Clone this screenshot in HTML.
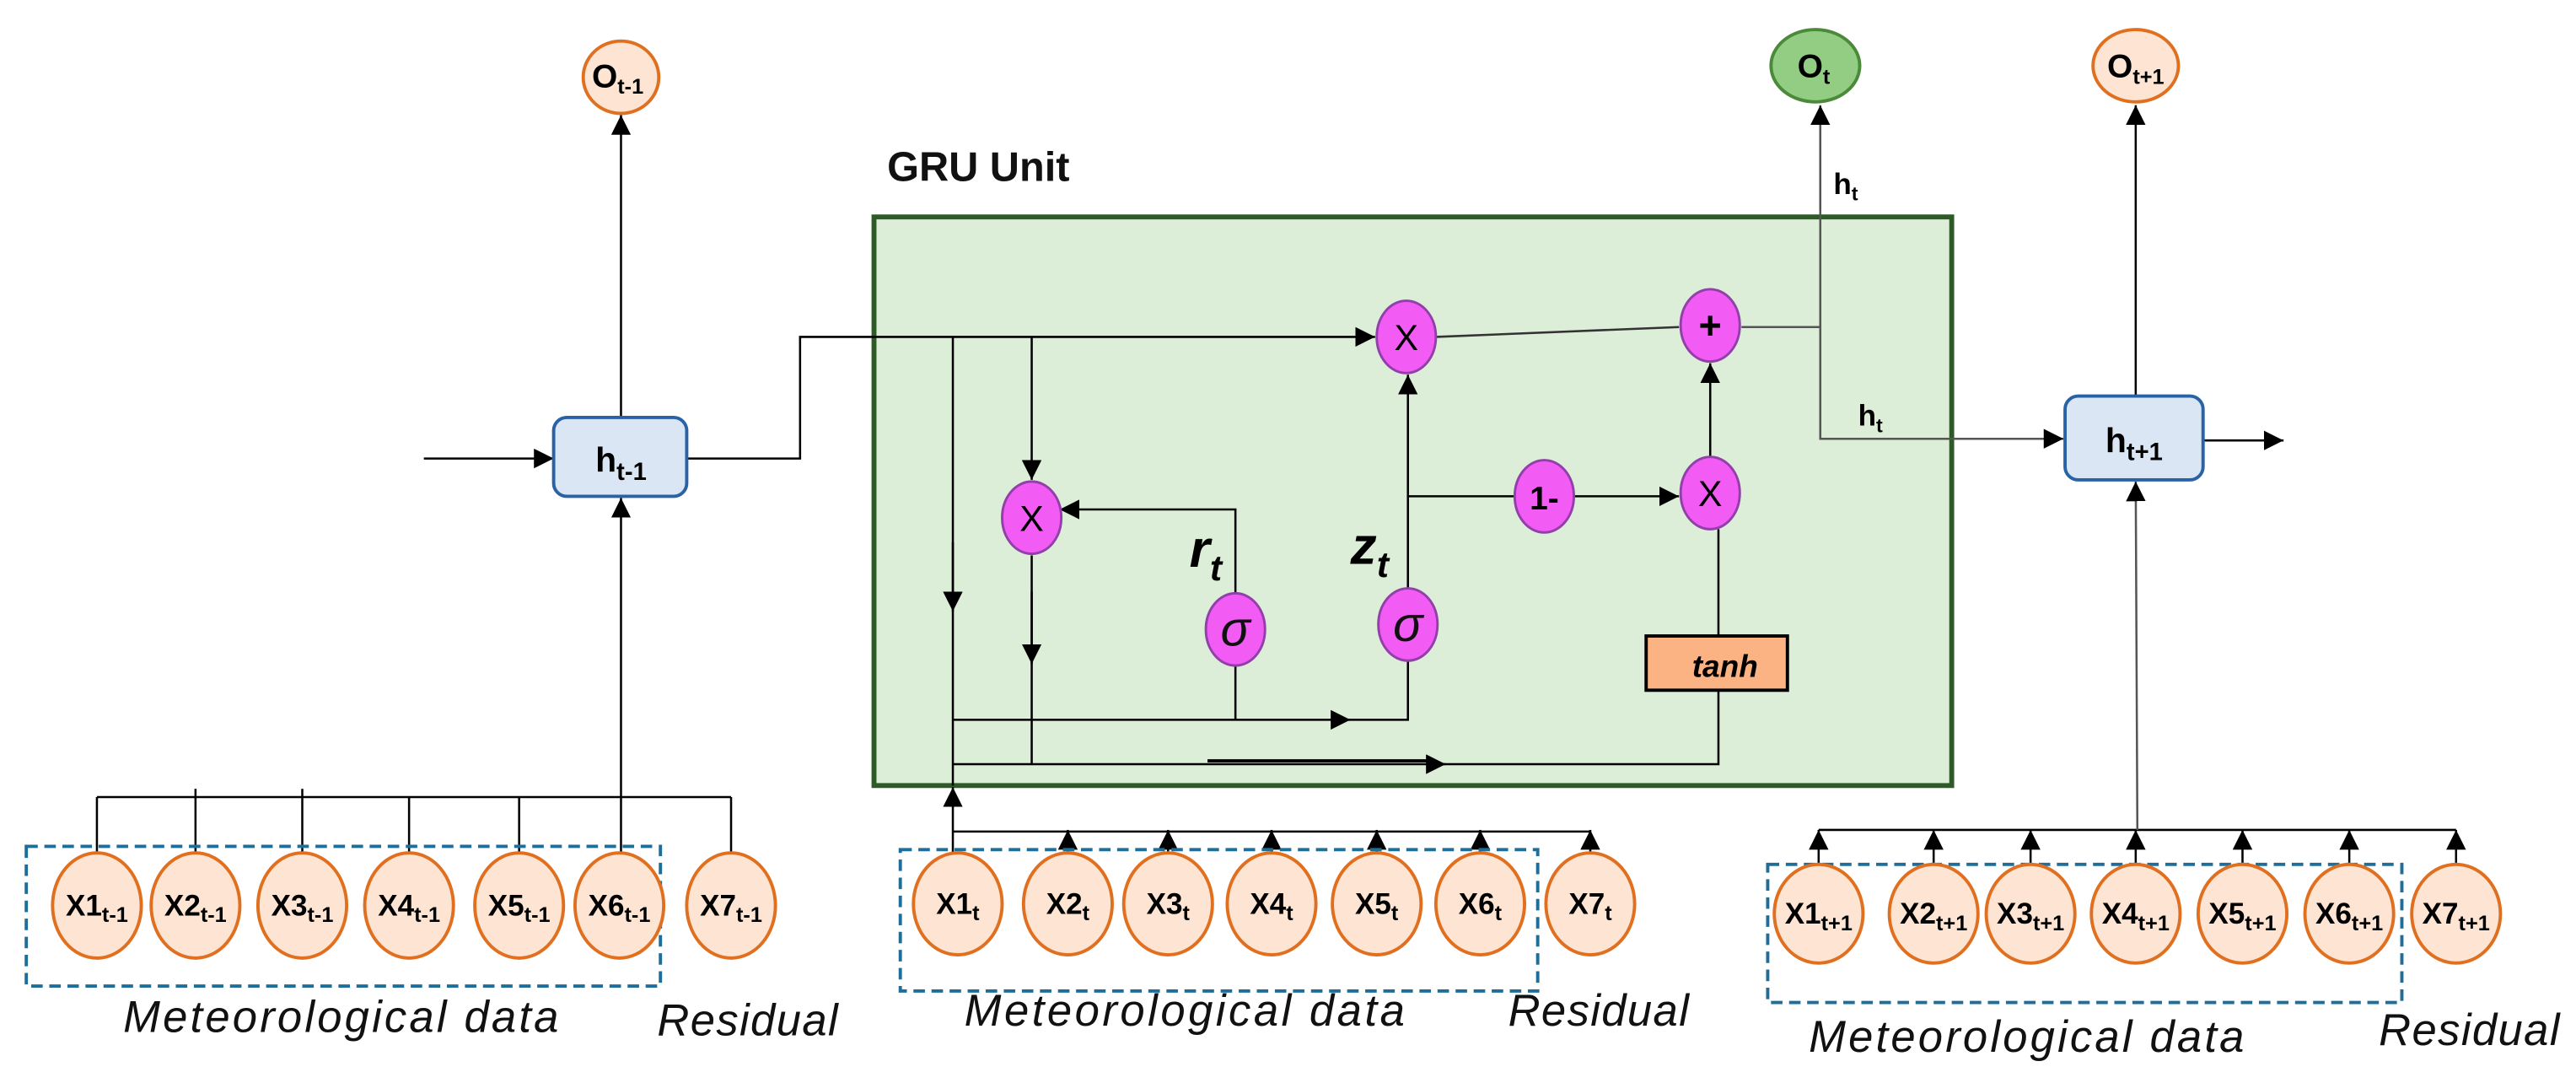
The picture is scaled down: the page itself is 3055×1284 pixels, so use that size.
<!DOCTYPE html>
<html><head><meta charset="utf-8"><style>
html,body{margin:0;padding:0;background:#fff;}
svg{display:block;}
text{font-family:"Liberation Sans",sans-serif;}
</style></head><body>
<svg width="3055" height="1284" viewBox="0 0 1568 659" preserveAspectRatio="none" xmlns="http://www.w3.org/2000/svg">
<defs>
<marker id="a" viewBox="0 0 10 10" refX="10" refY="5" markerWidth="12" markerHeight="12" markerUnits="userSpaceOnUse" orient="auto"><path d="M0,0L10,5L0,10z" fill="#000"/></marker>
</defs>
<g stroke="#000" stroke-width="1.3" fill="none">
<rect x="532" y="132" width="656" height="346" fill="#dcedd8" stroke="#2d5a27" stroke-width="3"/>
</g>
<text x="540" y="110" font-size="25" font-weight="bold" fill="#111">GRU Unit</text>
<g stroke="#000" stroke-width="1.3" fill="none">
<line x1="378" y1="254" x2="378" y2="70" marker-end="url(#a)"/>
<line x1="258" y1="279" x2="337" y2="279" marker-end="url(#a)"/>
<polyline points="418,279 487,279 487,205 837,205" marker-end="url(#a)"/>
<line x1="59" y1="485" x2="445" y2="485"/>
<line x1="59" y1="485" x2="59" y2="520"/>
<line x1="119" y1="480" x2="119" y2="520"/>
<line x1="184" y1="480" x2="184" y2="520"/>
<line x1="249" y1="485" x2="249" y2="520"/>
<line x1="316" y1="485" x2="316" y2="520"/>
<line x1="445" y1="485" x2="445" y2="520"/>
<line x1="378" y1="520" x2="378" y2="303" marker-end="url(#a)"/>
<line x1="580" y1="205" x2="580" y2="478"/>
<line x1="580" y1="330" x2="580" y2="372" marker-end="url(#a)"/>
<line x1="628" y1="205" x2="628" y2="292" marker-end="url(#a)"/>
<line x1="628" y1="338" x2="628" y2="465"/>
<line x1="628" y1="360" x2="628" y2="404" marker-end="url(#a)"/>
<polyline points="752,362 752,310 645,310" marker-end="url(#a)"/>
<line x1="752" y1="404" x2="752" y2="438"/>
<line x1="580" y1="438" x2="822" y2="438" marker-end="url(#a)"/>
<polyline points="815,438 857,438 857,402"/>
<line x1="857" y1="358" x2="857" y2="228" marker-end="url(#a)"/>
<line x1="857" y1="302" x2="922" y2="302"/>
<line x1="958" y1="302" x2="1022" y2="302" marker-end="url(#a)"/>
<line x1="1041" y1="278" x2="1041" y2="221" marker-end="url(#a)"/>
<line x1="1046" y1="322" x2="1046" y2="387"/>
<line x1="580" y1="465" x2="880" y2="465" marker-end="url(#a)"/>
<line x1="735" y1="463" x2="870" y2="463" stroke-width="2"/>
<polyline points="875,465 1046,465 1046,420"/>
<line x1="874" y1="205" x2="1022" y2="199" stroke="#333"/>
<polyline points="1060,199 1108,199 1108,267 1256,267" stroke="#555" marker-end="url(#a)"/>
<line x1="1108" y1="199" x2="1108" y2="64" stroke="#555" marker-end="url(#a)"/>
<line x1="580" y1="506" x2="968" y2="506"/>
<line x1="580" y1="520" x2="580" y2="479" marker-end="url(#a)"/>
<line x1="650" y1="520" x2="650" y2="505" marker-end="url(#a)"/>
<line x1="711" y1="520" x2="711" y2="505" marker-end="url(#a)"/>
<line x1="774" y1="520" x2="774" y2="505" marker-end="url(#a)"/>
<line x1="838" y1="520" x2="838" y2="505" marker-end="url(#a)"/>
<line x1="901" y1="520" x2="901" y2="505" marker-end="url(#a)"/>
<line x1="968" y1="520" x2="968" y2="505" marker-end="url(#a)"/>
<line x1="1300" y1="241" x2="1300" y2="64" marker-end="url(#a)"/>
<line x1="1341" y1="268" x2="1390" y2="268" marker-end="url(#a)"/>
<line x1="1107" y1="505" x2="1495" y2="505"/>
<line x1="1301" y1="505" x2="1300" y2="293" stroke="#555" marker-end="url(#a)"/>
<line x1="1107" y1="525" x2="1107" y2="505" marker-end="url(#a)"/>
<line x1="1177" y1="525" x2="1177" y2="505" marker-end="url(#a)"/>
<line x1="1236" y1="525" x2="1236" y2="505" marker-end="url(#a)"/>
<line x1="1300" y1="525" x2="1300" y2="505" marker-end="url(#a)"/>
<line x1="1365" y1="525" x2="1365" y2="505" marker-end="url(#a)"/>
<line x1="1430" y1="525" x2="1430" y2="505" marker-end="url(#a)"/>
<line x1="1495" y1="525" x2="1495" y2="505" marker-end="url(#a)"/>
<rect x="16" y="515" width="386" height="85" stroke="#1f6e9a" stroke-width="2" stroke-dasharray="7,4"/>
<rect x="548" y="517" width="388" height="86" stroke="#1f6e9a" stroke-width="2" stroke-dasharray="7,4"/>
<rect x="1076" y="526" width="386" height="84" stroke="#1f6e9a" stroke-width="2" stroke-dasharray="7,4"/>
</g>
<rect x="337" y="254" width="81" height="48" rx="8" fill="#dae6f4" stroke="#2a62a6" stroke-width="2"/>
<text x="378" y="287" font-size="21" font-weight="bold" text-anchor="middle">h<tspan font-size="15" dy="5">t-1</tspan></text>
<rect x="1257" y="241" width="84" height="51" rx="8" fill="#dae6f4" stroke="#2a62a6" stroke-width="2"/>
<text x="1299" y="275" font-size="21" font-weight="bold" text-anchor="middle">h<tspan font-size="15" dy="5">t+1</tspan></text>
<rect x="1002" y="387" width="86" height="33" fill="#fbb383" stroke="#000" stroke-width="2"/>
<text x="1050" y="412" font-size="19" font-weight="bold" font-style="italic" text-anchor="middle">tanh</text>
<ellipse cx="378" cy="47" rx="23" ry="22" fill="#fde4d3" stroke="#e07020" stroke-width="2"/>
<text x="376" y="53" font-size="20" font-weight="bold" text-anchor="middle">O<tspan font-size="13" dy="4">t-1</tspan></text>
<ellipse cx="1105" cy="40" rx="27" ry="22" fill="#93cc83" stroke="#4a8a3a" stroke-width="2"/>
<text x="1104" y="47" font-size="20" font-weight="bold" text-anchor="middle">O<tspan font-size="13" dy="4">t</tspan></text>
<ellipse cx="1300" cy="40" rx="26" ry="22" fill="#fde4d3" stroke="#e07020" stroke-width="2"/>
<text x="1300" y="47" font-size="20" font-weight="bold" text-anchor="middle">O<tspan font-size="13" dy="4">t+1</tspan></text>
<text x="1116" y="118" font-size="18" font-weight="bold">h<tspan font-size="12" dy="4">t</tspan></text>
<text x="1131" y="259" font-size="18" font-weight="bold">h<tspan font-size="12" dy="4">t</tspan></text>
<g fill="#f25cf4" stroke="#9040a8" stroke-width="1.5">
<ellipse cx="856" cy="205" rx="18" ry="22"/>
<ellipse cx="1041" cy="198" rx="18" ry="22"/>
<ellipse cx="628" cy="315" rx="18" ry="22"/>
<ellipse cx="940" cy="302" rx="18" ry="22"/>
<ellipse cx="1041" cy="300" rx="18" ry="22"/>
<ellipse cx="752" cy="383" rx="18" ry="22"/>
<ellipse cx="857" cy="380" rx="18" ry="22"/>
</g>
<g font-size="22" text-anchor="middle">
<text x="856" y="213">X</text>
<text x="1041" y="206" font-weight="bold" font-size="24">+</text>
<text x="628" y="323">X</text>
<text x="940" y="310" font-weight="bold" font-size="20">1-</text>
<text x="1041" y="308">X</text>
</g>
<g font-family="Liberation Serif,serif" font-size="30" font-style="italic" text-anchor="middle" fill="#111">
<text x="752" y="393">σ</text>
<text x="857" y="390">σ</text>
</g>
<text x="724" y="345" font-size="32" font-weight="bold" font-style="italic">r<tspan font-size="22" dy="8">t</tspan></text>
<text x="822" y="343" font-size="32" font-weight="bold" font-style="italic">z<tspan font-size="22" dy="8">t</tspan></text>
<g fill="#fde4d3" stroke="#e07020" stroke-width="2">
<ellipse cx="59" cy="551" rx="27" ry="32"/><ellipse cx="119" cy="551" rx="27" ry="32"/><ellipse cx="184" cy="551" rx="27" ry="32"/><ellipse cx="249" cy="551" rx="27" ry="32"/><ellipse cx="316" cy="551" rx="27" ry="32"/><ellipse cx="377" cy="551" rx="27" ry="32"/><ellipse cx="445" cy="551" rx="27" ry="32"/>
<ellipse cx="583" cy="550" rx="27" ry="31"/><ellipse cx="650" cy="550" rx="27" ry="31"/><ellipse cx="711" cy="550" rx="27" ry="31"/><ellipse cx="774" cy="550" rx="27" ry="31"/><ellipse cx="838" cy="550" rx="27" ry="31"/><ellipse cx="901" cy="550" rx="27" ry="31"/><ellipse cx="968" cy="550" rx="27" ry="31"/>
<ellipse cx="1107" cy="556" rx="27" ry="30"/><ellipse cx="1177" cy="556" rx="27" ry="30"/><ellipse cx="1236" cy="556" rx="27" ry="30"/><ellipse cx="1300" cy="556" rx="27" ry="30"/><ellipse cx="1365" cy="556" rx="27" ry="30"/><ellipse cx="1430" cy="556" rx="27" ry="30"/><ellipse cx="1495" cy="556" rx="27" ry="30"/>
</g>
<g font-size="18" font-weight="bold" text-anchor="middle">
<text x="59" y="557">X1<tspan font-size="13" dy="4">t-1</tspan></text>
<text x="119" y="557">X2<tspan font-size="13" dy="4">t-1</tspan></text>
<text x="184" y="557">X3<tspan font-size="13" dy="4">t-1</tspan></text>
<text x="249" y="557">X4<tspan font-size="13" dy="4">t-1</tspan></text>
<text x="316" y="557">X5<tspan font-size="13" dy="4">t-1</tspan></text>
<text x="377" y="557">X6<tspan font-size="13" dy="4">t-1</tspan></text>
<text x="445" y="557">X7<tspan font-size="13" dy="4">t-1</tspan></text>
<text x="583" y="556">X1<tspan font-size="13" dy="4">t</tspan></text>
<text x="650" y="556">X2<tspan font-size="13" dy="4">t</tspan></text>
<text x="711" y="556">X3<tspan font-size="13" dy="4">t</tspan></text>
<text x="774" y="556">X4<tspan font-size="13" dy="4">t</tspan></text>
<text x="838" y="556">X5<tspan font-size="13" dy="4">t</tspan></text>
<text x="901" y="556">X6<tspan font-size="13" dy="4">t</tspan></text>
<text x="968" y="556">X7<tspan font-size="13" dy="4">t</tspan></text>
<text x="1107" y="562">X1<tspan font-size="13" dy="4">t+1</tspan></text>
<text x="1177" y="562">X2<tspan font-size="13" dy="4">t+1</tspan></text>
<text x="1236" y="562">X3<tspan font-size="13" dy="4">t+1</tspan></text>
<text x="1300" y="562">X4<tspan font-size="13" dy="4">t+1</tspan></text>
<text x="1365" y="562">X5<tspan font-size="13" dy="4">t+1</tspan></text>
<text x="1430" y="562">X6<tspan font-size="13" dy="4">t+1</tspan></text>
<text x="1495" y="562">X7<tspan font-size="13" dy="4">t+1</tspan></text>
</g>
<g font-size="27" font-style="italic" fill="#111">
<text x="75" y="628" textLength="265" lengthAdjust="spacing">Meteorological data</text>
<text x="400" y="630" textLength="110" lengthAdjust="spacing">Residual</text>
<text x="587" y="624" textLength="268" lengthAdjust="spacing">Meteorological data</text>
<text x="918" y="624" textLength="110" lengthAdjust="spacing">Residual</text>
<text x="1101" y="640" textLength="265" lengthAdjust="spacing">Meteorological data</text>
<text x="1448" y="636" textLength="110" lengthAdjust="spacing">Residual</text>
</g>
</svg>
</body></html>
